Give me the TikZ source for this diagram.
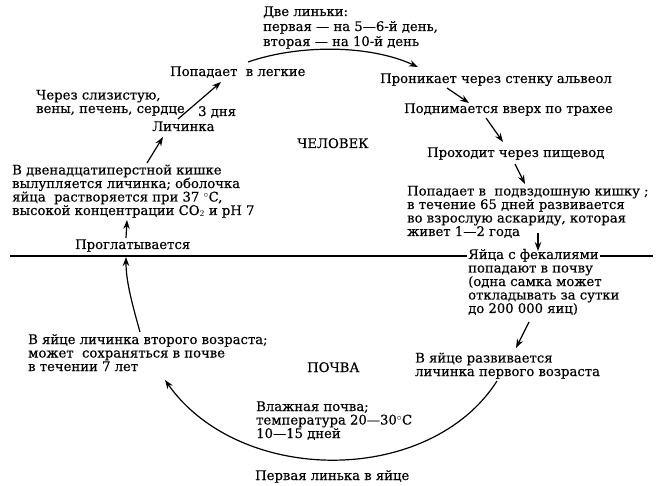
\documentclass[tikz,border=0pt]{standalone}
\usepackage{fontspec}
\setmainfont{DejaVu Serif}[FakeBold=0.4]
\usetikzlibrary{arrows.meta}
\setlength{\lineskiplimit}{-10pt}
\begin{document}
\begin{tikzpicture}[x=1pt,y=-1pt,
  txt/.style={anchor=base west, inner sep=0pt, align=left,
    font=\fontsize{13.2}{13.5}\selectfont},
  wide/.style={font=\fontsize{13.2}{15}\selectfont},
  arr/.style={-{Stealth[length=9pt,width=6.5pt]}, line width=1.2pt},
  sep/.style={line width=1.2pt}]
\useasboundingbox (0,0) rectangle (656,486);
% texts (anchored at the baseline of the last line)
\node[txt,wide] (molts) at (263,46) {Две линьки:\\первая — на 5—6-й день,\\вторая — на 10-й день};
\node[txt] (lungs) at (170,76) {Попадает\ \ в легкие};
\node[txt] (veins) at (36,113) {Через слизистую,\\вены, печень, сердце};
\node[txt] (days3) at (198,116) {3 дня};
\node[txt] (larva) at (152,131) {Личинка};
\node[txt] (alv) at (380,83) {Проникает через стенку альвеол};
\node[txt] (trach) at (404,113) {Поднимается вверх по трахее};
\node[txt] (human) at (297,148) {ЧЕЛОВЕК};
\node[txt] (esoph) at (427,157) {Проходит через пищевод};
\node[txt] (ileum) at (407,236) {Попадает в\ \ подвздошную кишку ;\\в течение 65 дней развивается\\во взрослую аскариду, которая\\живет 1—2 года};
\node[txt] (duod) at (12,215) {В двенадцатиперстной кишке\\вылупляется личинка; оболочка\\яйца\ \ растворяется при 37 $^{\circ}$C,\\высокой концентрации CO$_2$ и pH 7};
\node[txt] (swal) at (75,249) {Проглатывается};
\node[txt] (eggsT) at (468,259) {Яйца с фекалиями};
\node[txt] (eggs) at (468,313) {попадают в почву\\(одна самка может\\откладывать за сутки\\до 200 000 яиц)};
\node[txt] (first) at (415,376) {В яйце развивается\\личинка первого возраста};
\node[txt] (soil) at (307,372) {ПОЧВА};
\node[txt] (second) at (28,371) {В яйце личинка второго возраста;\\может\ \ сохраняться в почве\\в течении 7 лет};
\node[txt] (moist) at (256,438) {Влажная почва;\\температура 20—30$^{\circ}$C\\10—15 дней};
\node[txt] (molt1) at (255,480) {Первая линька в яйце};
% separator line
\coordinate (lineL) at (10,256);
\coordinate (lineR) at (653,256);
\draw[sep] (lineL) -- ([xshift=-1pt]eggsT.west |- lineL);
\draw[sep] ([xshift=1pt]eggsT.east |- lineR) -- (lineR);
% connector end points
\coordinate (a1s) at (178,119); \coordinate (a1e) at (221,82);
\coordinate (a2s) at (248,62);  \coordinate (a2e) at (418,67);
\coordinate (a3s) at (447,88);  \coordinate (a3e) at (469,103);
\coordinate (a4s) at (486,118); \coordinate (a4e) at (503,142);
\coordinate (a5s) at (515,164); \coordinate (a5e) at (525,184);
\coordinate (a6s) at (538,233); \coordinate (a6e) at (538,251);
\coordinate (a7s) at (529,322); \coordinate (a7e) at (516,348);
\coordinate (a8s) at (497,381); \coordinate (a8e) at (165,380);
\coordinate (a9s) at (140,332); \coordinate (a9e) at (126,257);
\coordinate (a10s) at (126,238); \coordinate (a10e) at (127,220);
\coordinate (a11s) at (147,163); \coordinate (a11e) at (163,137);
% arrows
\draw[arr] (a1s) -- (a1e);
\draw[arr] (a2s) .. controls (300,44) and (370,45) .. (a2e);
\draw[arr] (a3s) -- (a3e);
\draw[arr] (a4s) -- (a4e);
\draw[arr] (a5s) -- (a5e);
\draw[arr] (a6s) -- (a6e);
\draw[arr] (a7s) -- (a7e);
\draw[arr] (a8s) .. controls (430,486) and (240,486) .. (a8e);
\draw[arr] (a9s) .. controls (131,300) and (126,280) .. (a9e);
\draw[arr] (a10s) -- (a10e);
\draw[arr] (a11s) -- (a11e);
\end{tikzpicture}
\end{document}
